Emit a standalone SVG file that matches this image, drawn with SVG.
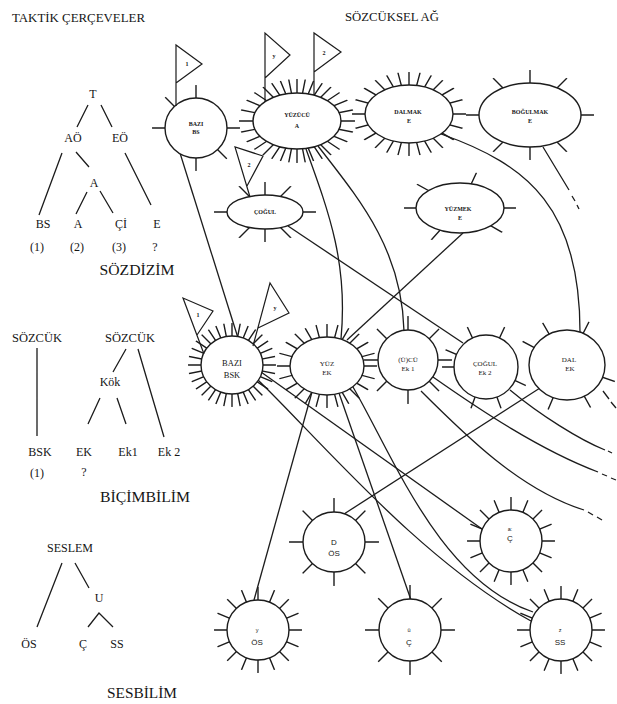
<svg xmlns="http://www.w3.org/2000/svg" xmlns:xlink="http://www.w3.org/1999/xlink" width="617" height="704" viewBox="0 0 617 704">
<style>
  .ln{stroke:#1c1c1c;stroke-width:1.3;fill:none}
  .nd{fill:#fff;stroke:#1c1c1c;stroke-width:1.4}
  .fl{fill:#fff;stroke:#1c1c1c;stroke-width:1.2;stroke-linejoin:miter}
  .t{font-family:'Liberation Serif','DejaVu Serif',serif;font-size:12px;fill:#151515;text-anchor:middle}
  .ts{font-family:'Liberation Serif','DejaVu Serif',serif;font-size:11.5px;fill:#151515}
  .th{font-family:'Liberation Serif','DejaVu Serif',serif;font-size:15px;fill:#151515;text-anchor:middle}
  .lb{font-family:'Liberation Serif','DejaVu Serif',serif;font-size:6px;font-weight:bold;fill:#151515;text-anchor:middle}
  .lm{font-family:'Liberation Serif','DejaVu Serif',serif;font-size:7px;fill:#151515;text-anchor:middle}
  .ll{font-family:'Liberation Serif','DejaVu Serif',serif;font-size:8.5px;fill:#151515;text-anchor:middle}
  .sn{font-family:'Liberation Sans','DejaVu Sans',sans-serif;font-size:8px;fill:#151515;text-anchor:middle}
  .sx{font-family:'Liberation Sans','DejaVu Sans',sans-serif;font-size:5.5px;fill:#151515;text-anchor:middle}
</style>
<defs>
  <!-- radial spike stars, clipped per node to a ring just outside the outline -->
  <path id="s8" d="M-90,0H90M0,-90V90M-63.64,-63.64L63.64,63.64M-63.64,63.64L63.64,-63.64"/>
  <g id="s16"><use href="#s8"/><use href="#s8" transform="rotate(22.5)"/></g>
  <g id="s32"><use href="#s16"/><use href="#s16" transform="rotate(11.25)"/></g>
  <g id="s24"><use href="#s8"/><use href="#s8" transform="rotate(15)"/><use href="#s8" transform="rotate(30)"/></g>
  <path id="b6" d="M0,0H90M0,0L63.64,63.64M0,0V90M0,0H-90M0,0L-63.64,-63.64M0,0V-90"/>
  <path id="y6" d="M0,0L90,0M0,0L77.94,45M0,0L-60.22,66.88M0,0L-90,0M0,0L-78.72,-43.63M0,0L38.04,-81.57"/>
  <path id="e7" d="M0,0L81.57,38.04M0,0L30.78,84.57M0,0L-30.78,84.57M0,0L-90,0M0,0L-82.85,-35.17M0,0L-38.04,-81.57M0,0L38.04,-81.57"/>
  <path id="d6" d="M0,0L85.1,29.3M0,0L43.63,78.72M0,0L-35.17,82.85M0,0L-79.46,-42.25M0,0L-45,-77.94M0,0L40.86,-80.19"/>
  <clipPath id="c1"><ellipse cx="196" cy="128" rx="44" ry="43"/></clipPath>
  <clipPath id="c2"><ellipse cx="297" cy="121" rx="58" ry="42"/></clipPath>
  <clipPath id="c3"><ellipse cx="409" cy="114" rx="57" ry="42"/></clipPath>
  <clipPath id="c4"><ellipse cx="530" cy="115" rx="64" ry="45"/></clipPath>
  <clipPath id="c5"><ellipse cx="265" cy="212" rx="51" ry="30"/></clipPath>
  <clipPath id="c6"><ellipse cx="460" cy="208" rx="56" ry="37"/></clipPath>
  <clipPath id="c7"><ellipse cx="232" cy="365" rx="44" ry="42"/></clipPath>
  <clipPath id="c8"><ellipse cx="327" cy="366" rx="50" ry="42"/></clipPath>
  <clipPath id="c9"><ellipse cx="408" cy="360" rx="44" ry="44"/></clipPath>
  <clipPath id="c10"><ellipse cx="486" cy="367" rx="44" ry="44"/></clipPath>
  <clipPath id="c11"><ellipse cx="567" cy="365" rx="51" ry="48"/></clipPath>
  <clipPath id="c12"><ellipse cx="334" cy="542" rx="45" ry="44"/></clipPath>
  <clipPath id="c13"><ellipse cx="511" cy="541" rx="44" ry="44"/></clipPath>
  <clipPath id="c14"><ellipse cx="258" cy="630" rx="44" ry="43"/></clipPath>
  <clipPath id="c15"><ellipse cx="410" cy="630" rx="45" ry="45"/></clipPath>
  <clipPath id="c16"><ellipse cx="561" cy="630" rx="44" ry="44"/></clipPath>
</defs>

<rect width="617" height="704" fill="#fff"/>

<!-- headings -->
<text class="ts" font-family="Liberation Serif, DejaVu Serif, serif" x="12" y="22" textLength="133" lengthAdjust="spacingAndGlyphs">TAKTİK ÇERÇEVELER</text>
<text class="ts" font-family="Liberation Serif, DejaVu Serif, serif" x="345" y="21" textLength="94" lengthAdjust="spacingAndGlyphs">SÖZCÜKSEL AĞ</text>

<!-- syntax tree -->
<g id="tree-sozdizim" font-family="Liberation Serif, DejaVu Serif, serif">
  <g class="ln">
    <path d="M88,105L77,127M101,105L112,127M62,153L39,215M76,152L89,167M87,192L76,214M100,191L113,213M125,153L151,205"/>
  </g>
  <text class="t" x="93" y="98">T</text>
  <text class="t" x="73" y="142">AÖ</text>
  <text class="t" x="120" y="142">EÖ</text>
  <text class="t" x="94" y="187">A</text>
  <text class="t" x="43" y="228">BS</text>
  <text class="t" x="78" y="228">A</text>
  <text class="t" x="121" y="228">Çİ</text>
  <text class="t" x="157" y="228">E</text>
  <text class="t" x="37" y="251">(1)</text>
  <text class="t" x="77" y="251">(2)</text>
  <text class="t" x="119" y="251">(3)</text>
  <text class="t" x="155" y="251">?</text>
  <text class="th" x="137" y="275" textLength="75" lengthAdjust="spacingAndGlyphs">SÖZDİZİM</text>
</g>

<!-- morphology trees -->
<g id="tree-bicimbilim" font-family="Liberation Serif, DejaVu Serif, serif">
  <g class="ln">
    <path d="M37,348V436M126,349L113,372M138,349L164,437M100,398L88,424M117,398L126,424"/>
  </g>
  <text class="t" x="37" y="342" textLength="50" lengthAdjust="spacingAndGlyphs">SÖZCÜK</text>
  <text class="t" x="130" y="342" textLength="50" lengthAdjust="spacingAndGlyphs">SÖZCÜK</text>
  <text class="t" x="110" y="386">Kök</text>
  <text class="t" x="40" y="456">BSK</text>
  <text class="t" x="84" y="456">EK</text>
  <text class="t" x="128" y="456">Ek1</text>
  <text class="t" x="169" y="456">Ek 2</text>
  <text class="t" x="37" y="477">(1)</text>
  <text class="t" x="84" y="476">?</text>
  <text class="th" x="145" y="502" textLength="90" lengthAdjust="spacingAndGlyphs">BİÇİMBİLİM</text>
</g>

<!-- phonology tree -->
<g id="tree-sesbilim" font-family="Liberation Serif, DejaVu Serif, serif">
  <g class="ln">
    <path d="M62,563L37,627M75,563L89,588M88,627L99,613L113,627"/>
  </g>
  <text class="t" x="70" y="552">SESLEM</text>
  <text class="t" x="99" y="602">U</text>
  <text class="t" x="29" y="648">ÖS</text>
  <text class="t" x="83" y="648">Ç</text>
  <text class="t" x="117" y="648">SS</text>
  <text class="th" x="142" y="698" textLength="70" lengthAdjust="spacingAndGlyphs">SESBİLİM</text>
</g>

<!-- connectors -->
<g id="connectors" class="ln">
  <path d="M180,153L238,338"/>
  <path d="M306,149C330,215 348,265 341,339"/>
  <path d="M318,146C360,200 402,250 404,331"/>
  <path d="M288,226L463,343"/>
  <path d="M463,233L347,340"/>
  <path d="M441,134C530,165 580,210 580,332"/>
  <path d="M543,147L569,190M572,196L575,201M577,205L579,209"/>
  <path d="M540,388L344,514"/>
  <path d="M312,392L254,600"/>
  <path d="M339,393L411,600"/>
  <path d="M353,387C395,460 440,580 533,612"/>
  <path d="M261,372L482,529"/>
  <path d="M258,380C320,440 420,560 531,621"/>
  <path d="M421,391C465,435 520,490 584,510M588,512L593,515M597,517L602,520"/>
  <path d="M433,377C480,410 540,450 598,472M602,474L607,476M611,478L616,480"/>
  <path d="M510,390C540,415 580,440 605,450M608,451L612,453"/>
  <path d="M603,391L609,399M611,402L616,408"/>
</g>

<!-- lexical network nodes -->
<g id="n-bazi-bs" font-family="Liberation Serif, DejaVu Serif, serif">
  <g clip-path="url(#c1)" stroke="#1c1c1c" stroke-width="1.4"><use href="#b6" transform="translate(196,128)"/></g>
  <ellipse class="nd" cx="196" cy="128" rx="31" ry="30"/>
  <path class="fl" d="M176,106L176,45L202,64L176,83"/>
  <text class="lb" x="187" y="66">1</text>
  <text class="lb" x="196" y="126">BAZI</text>
  <text class="lb" x="196" y="134">BS</text>
</g>

<g id="n-yuzucu-a" font-family="Liberation Serif, DejaVu Serif, serif">
  <g clip-path="url(#c2)" stroke="#1c1c1c" stroke-width="1.4"><use href="#s32" transform="translate(297,121)"/></g>
  <ellipse class="nd" cx="297" cy="121" rx="44" ry="28"/>
  <path class="fl" d="M265,102L265,33L290,55L265,78"/>
  <path class="fl" d="M314,95L314,33L341,52L314,72"/>
  <text class="lb" x="274" y="58">y</text>
  <text class="lb" x="324" y="55">2</text>
  <text class="lb" x="297" y="117">YÜZÜCÜ</text>
  <text class="lb" x="297" y="128">A</text>
</g>

<g id="n-dalmak-e" font-family="Liberation Serif, DejaVu Serif, serif">
  <g clip-path="url(#c3)" stroke="#1c1c1c" stroke-width="1.4"><use href="#s24" transform="translate(409,114)"/></g>
  <ellipse class="nd" cx="409" cy="114" rx="44" ry="29"/>
  <text class="lb" x="408" y="114">DALMAK</text>
  <text class="lb" x="409" y="123">E</text>
</g>

<g id="n-bogulmak-e" font-family="Liberation Serif, DejaVu Serif, serif">
  <g clip-path="url(#c4)" stroke="#1c1c1c" stroke-width="1.4"><use href="#s8" transform="translate(530,115)"/></g>
  <ellipse class="nd" cx="530" cy="115" rx="51" ry="32"/>
  <text class="lb" x="530" y="114">BOĞULMAK</text>
  <text class="lb" x="530" y="123">E</text>
</g>

<g id="n-cogul" font-family="Liberation Serif, DejaVu Serif, serif">
  <g clip-path="url(#c5)" stroke="#1c1c1c" stroke-width="1.4"><use href="#s8" transform="translate(265,212)"/></g>
  <ellipse class="nd" cx="265" cy="212" rx="38" ry="17"/>
  <path class="fl" d="M250,197L235,147L263,156L247,186"/>
  <text class="lb" x="249" y="167">2</text>
  <text class="lb" x="265" y="214">ÇOĞUL</text>
</g>

<g id="n-yuzmek-e" font-family="Liberation Serif, DejaVu Serif, serif">
  <g clip-path="url(#c6)" stroke="#1c1c1c" stroke-width="1.4"><use href="#y6" transform="translate(460,208)"/></g>
  <ellipse class="nd" cx="460" cy="208" rx="44" ry="25"/>
  <text class="lb" x="458" y="211">YÜZMEK</text>
  <text class="lb" x="460" y="220">E</text>
</g>

<g id="n-bazi-bsk" font-family="Liberation Serif, DejaVu Serif, serif">
  <g clip-path="url(#c7)" stroke="#1c1c1c" stroke-width="1.4"><use href="#s32" transform="translate(232,365)"/></g>
  <ellipse class="nd" cx="232" cy="365" rx="31" ry="29"/>
  <path class="fl" d="M204,354L183,298L213,311L197,335"/>
  <path class="fl" d="M253,346L270,283L289,313L258,328"/>
  <text class="lb" x="198" y="317">1</text>
  <text class="lb" x="275" y="310">y</text>
  <text class="ll" x="232" y="366">BAZI</text>
  <text class="ll" x="232" y="378">BSK</text>
</g>

<g id="n-yuz-ek" font-family="Liberation Serif, DejaVu Serif, serif">
  <g clip-path="url(#c8)" stroke="#1c1c1c" stroke-width="1.4"><use href="#s24" transform="translate(327,366)"/></g>
  <ellipse class="nd" cx="327" cy="366" rx="37" ry="29"/>
  <text class="lm" x="327" y="366">YÜZ</text>
  <text class="lm" x="327" y="375">EK</text>
</g>

<g id="n-cu-ek1" font-family="Liberation Serif, DejaVu Serif, serif">
  <g clip-path="url(#c9)" stroke="#1c1c1c" stroke-width="1.4"><use href="#s8" transform="translate(408,360)"/></g>
  <ellipse class="nd" cx="408" cy="360" rx="30" ry="30"/>
  <text class="lm" x="408" y="362">(Ü)CÜ</text>
  <text class="lm" x="408" y="371">Ek 1</text>
</g>

<g id="n-cogul-ek2" font-family="Liberation Serif, DejaVu Serif, serif">
  <g clip-path="url(#c10)" stroke="#1c1c1c" stroke-width="1.4"><use href="#e7" transform="translate(486,367)"/></g>
  <ellipse class="nd" cx="486" cy="367" rx="32" ry="32"/>
  <text class="lm" x="485" y="366">ÇOĞUL</text>
  <text class="lm" x="485" y="375">Ek 2</text>
</g>

<g id="n-dal-ek" font-family="Liberation Serif, DejaVu Serif, serif">
  <g clip-path="url(#c11)" stroke="#1c1c1c" stroke-width="1.4"><use href="#d6" transform="translate(567,365)"/></g>
  <ellipse class="nd" cx="567" cy="365" rx="38" ry="35"/>
  <text class="lm" x="569" y="362">DAL</text>
  <text class="lm" x="570" y="371">EK</text>
</g>

<g id="n-d-os">
  <g clip-path="url(#c12)" stroke="#1c1c1c" stroke-width="1.4"><use href="#s8" transform="translate(334,542)"/></g>
  <ellipse class="nd" cx="334" cy="542" rx="31" ry="30"/>
  <text class="sn" x="334" y="545">D</text>
  <text class="sn" x="334" y="556">ÖS</text>
</g>

<g id="n-a-c">
  <g clip-path="url(#c13)" stroke="#1c1c1c" stroke-width="1.4"><use href="#s16" transform="translate(511,541)"/></g>
  <ellipse class="nd" cx="511" cy="541" rx="31" ry="31"/>
  <text class="sx" x="510" y="531">a:</text>
  <text class="sn" x="510" y="541">Ç</text>
</g>

<g id="n-y-os">
  <g clip-path="url(#c14)" stroke="#1c1c1c" stroke-width="1.4"><use href="#s16" transform="translate(258,630)"/></g>
  <ellipse class="nd" cx="258" cy="630" rx="31" ry="30"/>
  <text class="sx" x="257" y="632">y</text>
  <text class="sn" x="257" y="645">ÖS</text>
</g>

<g id="n-u-c">
  <g clip-path="url(#c15)" stroke="#1c1c1c" stroke-width="1.4"><use href="#s8" transform="translate(410,630)"/></g>
  <ellipse class="nd" cx="410" cy="630" rx="31" ry="31"/>
  <text class="sx" x="409" y="632">ü</text>
  <text class="sn" x="409" y="645">Ç</text>
</g>

<g id="n-z-ss">
  <g clip-path="url(#c16)" stroke="#1c1c1c" stroke-width="1.4"><use href="#s16" transform="translate(561,630)"/></g>
  <ellipse class="nd" cx="561" cy="630" rx="31" ry="31"/>
  <text class="sx" x="560" y="632">z</text>
  <text class="sn" x="560" y="645">SS</text>
</g>
</svg>
